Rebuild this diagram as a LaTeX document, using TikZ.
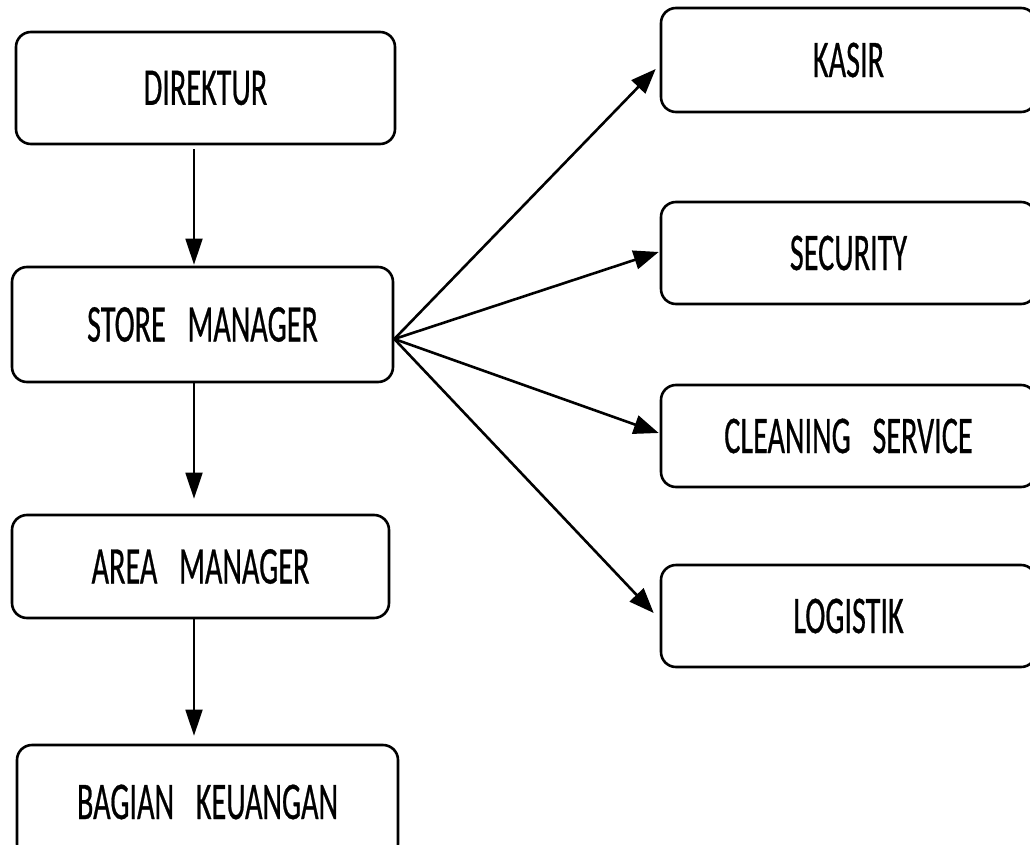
\documentclass[tikz,border=0pt]{standalone}
\usepackage{fontspec}
\setmainfont[FakeBold=0.7]{Carlito}
\usetikzlibrary{arrows.meta,calc}

% word gap used inside the two-word titles
\newcommand{\wgap}{\hspace{0.72em}}
% condensed label text
\newcommand{\lbl}[1]{\scalebox{0.57}[1]{#1}}

\tikzset{
  unit/.style={draw=black, line width=2.6pt, rounded corners=15pt, fill=white,
               inner sep=0pt, font=\fontsize{53}{60}\selectfont},
  link/.style={draw=black, line width=2.6pt, -{Triangle[length=25pt,width=19pt]}},
  downlink/.style={draw=black, line width=1.8pt, -{Triangle[length=26pt,width=17pt]}}
}

\begin{document}
\begin{tikzpicture}[x=1pt, y=-1pt]
  \useasboundingbox (0,0) rectangle (1030,845);

  % left column
  \node[unit, minimum width=379pt, minimum height=112pt] (dir) at (205.5,88) {\lbl{DIREKTUR}};
  \node[unit, minimum width=381pt, minimum height=115pt] (sm)  at (202.5,324.5) {\lbl{STORE\wgap MANAGER}};
  \node[unit, minimum width=377pt, minimum height=103pt] (am)  at (200.5,566.5) {\lbl{AREA\wgap MANAGER}};
  \node[unit, minimum width=381pt, minimum height=114pt] (bk)  at (207.5,802) {\lbl{BAGIAN\wgap KEUANGAN}};

  % right column
  \node[unit, minimum width=375pt, minimum height=104pt] (kasir) at (848.5,60)  {\lbl{KASIR}};
  \node[unit, minimum width=375pt, minimum height=102pt] (sec)   at (848.5,253) {\lbl{SECURITY}};
  \node[unit, minimum width=375pt, minimum height=102pt] (cs)    at (848.5,436) {\lbl{CLEANING\wgap SERVICE}};
  \node[unit, minimum width=375pt, minimum height=102pt] (log)   at (848.5,616) {\lbl{LOGISTIK}};

  % vertical chain
  \coordinate (spine) at (194,0);
  \draw[downlink, shorten <=4pt, shorten >=1pt] (dir.south -| spine) -- (sm.north -| spine);
  \draw[downlink, shorten >=15pt] (sm.south -| spine) -- (am.north -| spine);
  \draw[downlink, shorten >=8pt] (am.south -| spine) -- (bk.north -| spine);

  % fan-out from the store manager
  \coordinate (hub) at ($(sm.east)+(0,14.5)$);
  \draw[link] (hub) -- ($(kasir.west)+(-4,9)$);
  \draw[link] (hub) -- ($(sec.west)+(-1,-1)$);
  \draw[link] (hub) -- ($(cs.west)+(-1,-3)$);
  \draw[link] (hub) -- ($(log.west)+(-6,-3)$);
\end{tikzpicture}
\end{document}
